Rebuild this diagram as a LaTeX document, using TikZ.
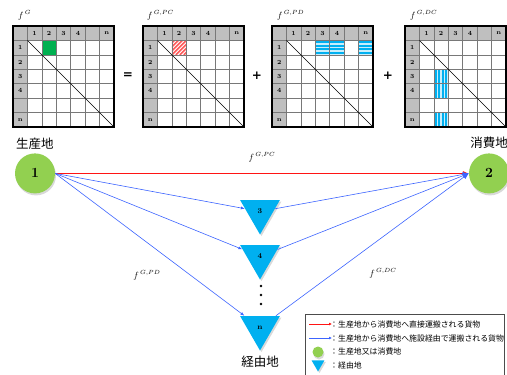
\documentclass[tikz,border=0pt]{standalone}
\usepackage{fontspec}
\newfontfamily\jp{Noto Sans CJK JP}
\newfontfamily\opfont{DejaVu Sans}
\usepackage{xcolor}
\usetikzlibrary{shapes.geometric,arrows.meta,shadows,positioning}

\definecolor{sitegreen}{RGB}{146,208,80}
\definecolor{viacyan}{RGB}{0,176,240}
\definecolor{lightcyan}{RGB}{200,238,252}
\definecolor{hdrgray}{RGB}{191,191,191}
\definecolor{gridgray}{RGB}{120,120,120}
\definecolor{cellgreen}{RGB}{0,176,80}
\definecolor{hatchred}{RGB}{255,90,90}
\definecolor{flowblue}{RGB}{60,100,255}
\definecolor{flowred}{RGB}{255,20,20}

\def\cs{14.43}

% one OD matrix, #3 = coloured cells
\newcommand{\costmat}[3]{%
  \begin{scope}[shift={(#1,#2)}]
    \fill[hdrgray] (0,0) rectangle (7*\cs,\cs);
    \fill[hdrgray] (0,0) rectangle (\cs,7*\cs);
    #3
    \foreach \k in {1,...,6}{
      \draw[gridgray, line width=0.5pt] (\k*\cs,0) -- (\k*\cs,7*\cs);
      \draw[gridgray, line width=0.5pt] (0,\k*\cs) -- (7*\cs,\k*\cs);
    }
    \draw[line width=0.6pt] (\cs,\cs) -- (7*\cs,7*\cs);
    \draw[line width=1.1pt] (0,0) rectangle (7*\cs,7*\cs);
    \foreach \k/\t in {1/1,2/2,3/3,4/4,6/n}{
      \node[hdr] at ({(\k+0.5)*\cs},0.5*\cs) {\t};
      \node[hdr] at (0.5*\cs,{(\k+0.5)*\cs}) {\t};
    }
  \end{scope}}

\newcommand{\greencell}[2]{\fill[cellgreen] (#1*\cs,#2*\cs) rectangle ({(#1+1)*\cs},{(#2+1)*\cs});}
\newcommand{\hatchcell}[2]{%
  \begin{scope}
    \clip (#1*\cs,#2*\cs) rectangle ({(#1+1)*\cs},{(#2+1)*\cs});
    \foreach \d in {-16,-12,...,16}
      \draw[hatchred, line width=1.6pt] ({#1*\cs+\d},{(#2+1)*\cs}) -- ({(#1+1)*\cs+\d},{#2*\cs});
  \end{scope}}
\newcommand{\hstripecell}[2]{%
  \fill[lightcyan] (#1*\cs,#2*\cs) rectangle ({(#1+1)*\cs},{(#2+1)*\cs});
  \foreach \d in {0.14,0.38,0.62,0.86}
    \draw[viacyan, line width=2pt] (#1*\cs,{(#2+\d)*\cs}) -- ({(#1+1)*\cs},{(#2+\d)*\cs});}
\newcommand{\vstripecell}[2]{%
  \fill[lightcyan] (#1*\cs,#2*\cs) rectangle ({(#1+1)*\cs},{(#2+1)*\cs});
  \foreach \d in {0.14,0.38,0.62,0.86}
    \draw[viacyan, line width=2pt] ({(#1+\d)*\cs},#2*\cs) -- ({(#1+\d)*\cs},{(#2+1)*\cs});}

\tikzset{
  hdr/.style={font=\fontsize{6.2}{6.2}\selectfont\bfseries, inner sep=0pt},
  mlabel/.style={anchor=west, font=\fontsize{9}{9}\selectfont, inner sep=0pt},
  oper/.style={font=\opfont\fontsize{12}{12}\selectfont\bfseries, inner sep=0pt},
  site/.style={circle, fill=sitegreen, minimum size=40pt, inner sep=0pt,
    font=\fontsize{14}{14}\selectfont\bfseries,
    drop shadow={shadow xshift=1pt, shadow yshift=-2pt, opacity=0.3}},
  via/.style={regular polygon, regular polygon sides=3, shape border rotate=180,
    fill=viacyan, minimum size=46pt, inner sep=0pt,
    font=\fontsize{7.5}{7.5}\selectfont\bfseries,
    drop shadow={shadow xshift=1.5pt, shadow yshift=-1.5pt, opacity=0.3}},
  place/.style={font=\jp\fontsize{12.5}{12.5}\selectfont, inner sep=0pt},
  flabel/.style={text=black, font=\fontsize{9}{9}\selectfont, inner sep=0pt},
  legtxt/.style={anchor=west, font=\jp\fontsize{7.9}{7.9}\selectfont, inner sep=0pt},
  pcflow/.style={draw=flowred, line width=1.1pt},
  viaflow/.style={draw=flowblue, line width=0.6pt}
}

\begin{document}
\begin{tikzpicture}[x=1pt, y=-1pt]
    \useasboundingbox (0,0) rectangle (507,375);

    % matrices
    \node[mlabel] (fg) at (18,15) {$f^{\,G}$};
    \node[mlabel] (fgpc) at (147,15) {$f^{\,G,PC}$};
    \node[mlabel] (fgpd) at (277,15) {$f^{\,G,PD}$};
    \node[mlabel] (fgdc) at (410,15) {$f^{\,G,DC}$};
    \costmat{13}{26}{\greencell{2}{1}}
    \costmat{143}{26}{\hatchcell{2}{1}}
    \costmat{272}{26}{\hstripecell{3}{1}\hstripecell{4}{1}\hstripecell{6}{1}}
    \costmat{405}{26}{\vstripecell{2}{3}\vstripecell{2}{4}\vstripecell{2}{6}}
    \node[oper] (eq) at (128,76) {=};
    \node[oper] (pl1) at (257,76) {+};
    \node[oper] (pl2) at (388,76) {+};

    % network
    \node[site] (n1) at (35,173.4) {1};
    \node[site] (n2) at (489,173.4) {2};
    \node[place, above=4pt of n1] (prod) {生産地};
    \node[place, above=4pt of n2] (cons) {消費地};
    \node[via] (t3) at (260,211.5) {3};
    \node[via] (t4) at (260,256.5) {4};
    \node[via] (tn) at (260,327.5) {n};
    \node[place, below=5pt of tn] (tran) {経由地};
    \foreach \y in {286,295,304}
        \fill (261,\y) circle (1.4pt);

    \draw[pcflow, -{Latex[length=6pt, width=5pt]}] (n1.east) -- (n2);
    \node[flabel] (lpc) at (262,157) {$f^{\,G,PC}$};
    \foreach \t in {t3,t4,tn}{
        \draw[viaflow, -{Latex[length=4pt, width=3pt]}] (n1.east) -- (\t);
        \draw[viaflow, -{Latex[length=6pt, width=5pt]}] (\t) -- (n2.west);
    }
    \node[flabel] (lpd) at (147,275) {$f^{\,G,PD}$};
    \node[flabel] (ldc) at (383,273) {$f^{\,G,DC}$};

    % legend
    \draw[gray!60!black, line width=0.6pt] (305,376) -- (305,314) -- (504,314) -- (504,376);
    \coordinate (ra) at (309,324);
    \coordinate (rb) at (332,324);
    \coordinate (ba) at (309,338);
    \coordinate (bb) at (332,338);
    \draw[pcflow, line width=0.6pt, -{Latex[length=3pt, width=3pt]}] (ra) -- (rb);
    \draw[viaflow, -{Latex[length=3pt, width=3pt]}] (ba) -- (bb);
    \node[site, minimum size=11pt] (lsite) at (318,352) {};
    \node[via, minimum size=15pt] (lvia) at (318,364) {};
    \node[legtxt] (t1) at (330,324) {：生産地から消費地へ直接運搬される貨物};
    \node[legtxt] (t2) at (330,338) {：生産地から消費地へ施設経由で運搬される貨物};
    \node[legtxt] (t3l) at (330,352) {：生産地又は消費地};
    \node[legtxt] (t4l) at (330,366) {：経由地};
\end{tikzpicture}
\end{document}
